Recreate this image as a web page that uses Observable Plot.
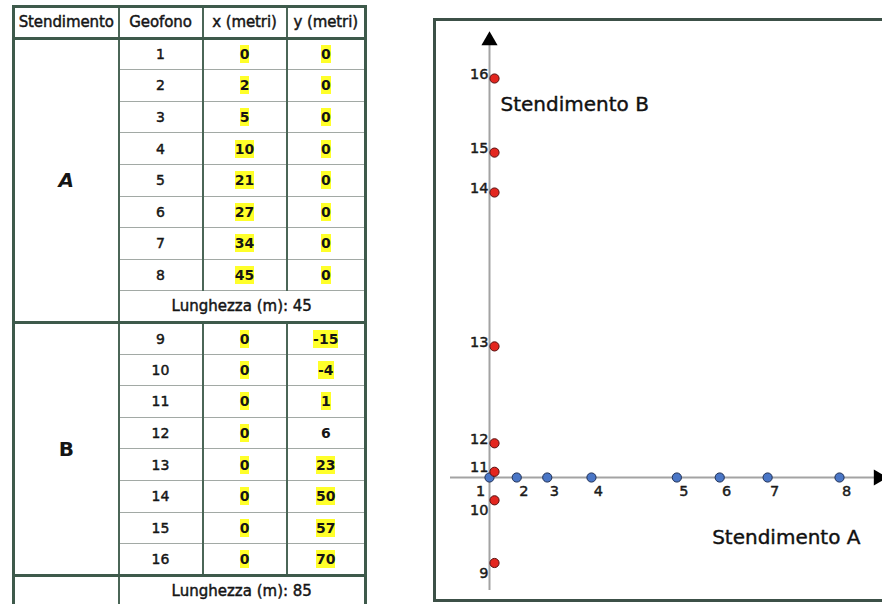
<!DOCTYPE html>
<html><head><meta charset="utf-8">
<script src="https://cdn.jsdelivr.net/npm/d3@7"></script>
<script src="https://cdn.jsdelivr.net/npm/@observablehq/plot@0.6"></script>
<style>
html,body{margin:0;padding:0;background:#fff;}
body{width:882px;height:604px;overflow:hidden;position:relative;font-family:"DejaVu Sans",sans-serif;color:#151515;}
#tab{position:absolute;left:12px;top:5px;border-collapse:collapse;table-layout:fixed;width:352px;border:3px solid #3e5a4b;font-size:14px;-webkit-text-stroke:0.45px #151515;}
#tab td,#tab th{padding:0;text-align:center;vertical-align:middle;font-weight:normal;
  border-left:2px solid #4b6657;border-right:2px solid #4b6657;border-top:1.5px solid #a2a9a5;border-bottom:1.5px solid #a2a9a5;}
#tab tr{height:31.6px;}
#tab th{border-bottom:3px solid #3e5a4b;font-size:15px;letter-spacing:-0.1px;}
#tab tr.sec td{border-top:3px solid #3e5a4b;}
#tab td.big{font-size:20px;font-weight:bold;-webkit-text-stroke:0;}
#tab td.big.it{font-style:italic;}
#tab span.v{font-weight:bold;padding:1px 0;-webkit-text-stroke:0;}
#tab span.hl{background:#ffff2a;}
#tab td.len{font-size:15px;}
#box{position:absolute;left:433px;top:18px;width:470px;height:584px;border:3px solid #3c5047;box-sizing:border-box;overflow:hidden;background:#fff;}
#box svg{position:absolute;left:0;top:0;}
</style></head><body>
<table id="tab"></table>
<div id="box"></div>
<script>
// ---- data ----
const intestazioni = ["Stendimento", "Geofono", "x (metri)", "y (metri)"];
const stendimentiNomi = ["A", "B"];
const lunghezze = [45, 85];
const geofoni = [1, 2, 3, 4, 5, 6, 7, 8, 9, 10, 11, 12, 13, 14, 15, 16];
const stendimentoDi = ["A","A","A","A","A","A","A","A","B","B","B","B","B","B","B","B"];
const xMetri = [0, 2, 5, 10, 21, 27, 34, 45, 0, 0, 0, 0, 0, 0, 0, 0];
const yMetri = [0, 0, 0, 0, 0, 0, 0, 0, -15, -4, 1, 6, 23, 50, 57, 70];
const senzaEvidenza = ["12-y"];

// ---- table ----
const tab = document.getElementById("tab");
const cg = document.createElement("colgroup");
[105, 84, 84, 79].forEach(w => { const c = document.createElement("col"); c.style.width = w + "px"; cg.appendChild(c); });
tab.appendChild(cg);
const hr = document.createElement("tr");
intestazioni.forEach(h => { const th = document.createElement("th"); th.textContent = h; hr.appendChild(th); });
tab.appendChild(hr);
function valCell(v, key) {
  const td = document.createElement("td");
  const s = document.createElement("span");
  s.className = "v" + (senzaEvidenza.includes(key) ? "" : " hl");
  s.textContent = v;
  td.appendChild(s);
  return td;
}
stendimentiNomi.forEach((nome, si) => {
  const idx = geofoni.map((g, i) => i).filter(i => stendimentoDi[i] === nome);
  idx.forEach((i, k) => {
    const tr = document.createElement("tr");
    if (k === 0) {
      tr.className = "sec";
      const td = document.createElement("td");
      td.className = "big" + (si === 0 ? " it" : "");
      td.rowSpan = si === 0 ? idx.length + 1 : idx.length;
      td.textContent = nome;
      tr.appendChild(td);
    }
    const tg = document.createElement("td"); tg.textContent = geofoni[i]; tr.appendChild(tg);
    tr.appendChild(valCell(xMetri[i], geofoni[i] + "-x"));
    tr.appendChild(valCell(yMetri[i], geofoni[i] + "-y"));
    tab.appendChild(tr);
  });
  const tl = document.createElement("tr");
  if (si > 0) { tl.className = "sec"; const e = document.createElement("td"); tl.appendChild(e); }
  const td = document.createElement("td");
  td.colSpan = 3; td.className = "len";
  td.textContent = "Lunghezza (m): " + lunghezze[si];
  tl.appendChild(td);
  tab.appendChild(tl);
});

// ---- chart ----
const punti = geofoni.map((g, i) => ({g, s: stendimentoDi[i], x: xMetri[i], y: yMetri[i]}));
const puntiA = punti.filter(d => d.s === "A");
const puntiB = punti.filter(d => d.s === "B");
const axisColor = "#a3a3a3";
const ink = "#1a1a1a";
const lbl = {text: "g", fill: ink, stroke: ink, strokeWidth: 0.45, fontSize: 14.5};
const chart = Plot.plot({
  width: 464, height: 578,
  marginTop: 19, marginBottom: 9, marginLeft: 14, marginRight: 22,
  x: {type: "pow", exponent: 0.82, domain: [0, 45], range: [53, 403], axis: null},
  y: {domain: [-15, 70], range: [541.5, 57], axis: null},
  style: {fontFamily: "DejaVu Sans, sans-serif", fontSize: "14px", color: ink, background: "transparent"},
  marks: [
    Plot.ruleY([0], {stroke: axisColor, strokeWidth: 2}),
    Plot.ruleX([0], {stroke: axisColor, strokeWidth: 2}),
    Plot.dot([0], {x: d => d, frameAnchor: "top", symbol: "triangle", fill: "#000", stroke: "none", r: 6}),
    Plot.dot([0], {y: d => d, frameAnchor: "right", symbol: "triangle", rotate: 90, fill: "#000", stroke: "none", r: 6}),
    Plot.dot(puntiA, {x: "x", y: "y", r: 4.6, fill: "#4a76c6", stroke: "#1e2f55", strokeWidth: 1}),
    Plot.dot(puntiB, {x: "x", y: "y", dx: 5, r: 4.6, fill: "#e3261f", stroke: "#561010", strokeWidth: 1}),
    Plot.text(puntiA.filter(d => d.x > 0), {x: "x", y: "y", dx: 7, dy: 14, ...lbl}),
    Plot.text(puntiA.filter(d => d.x === 0), {x: "x", y: "y", dx: -9, dy: 14, ...lbl}),
    Plot.text(puntiB.filter(d => d.y >= 0), {x: "x", y: "y", textAnchor: "end", dx: -1, dy: -4, ...lbl}),
    Plot.text(puntiB.filter(d => d.y < 0), {x: "x", y: "y", textAnchor: "end", dx: -1, dy: 10, ...lbl}),
    Plot.text(["Stendimento B"], {frameAnchor: "top-left", text: d => d, textAnchor: "start", dx: 50, dy: 56, fontSize: 20, fill: "#111", stroke: "#111", strokeWidth: 0.4}),
    Plot.text(["Stendimento A"], {frameAnchor: "bottom-right", text: d => d, textAnchor: "end", dx: -18, dy: -47, fontSize: 20, fill: "#111", stroke: "#111", strokeWidth: 0.4})
  ]
});
document.getElementById("box").appendChild(chart);
</script>
</body></html>
